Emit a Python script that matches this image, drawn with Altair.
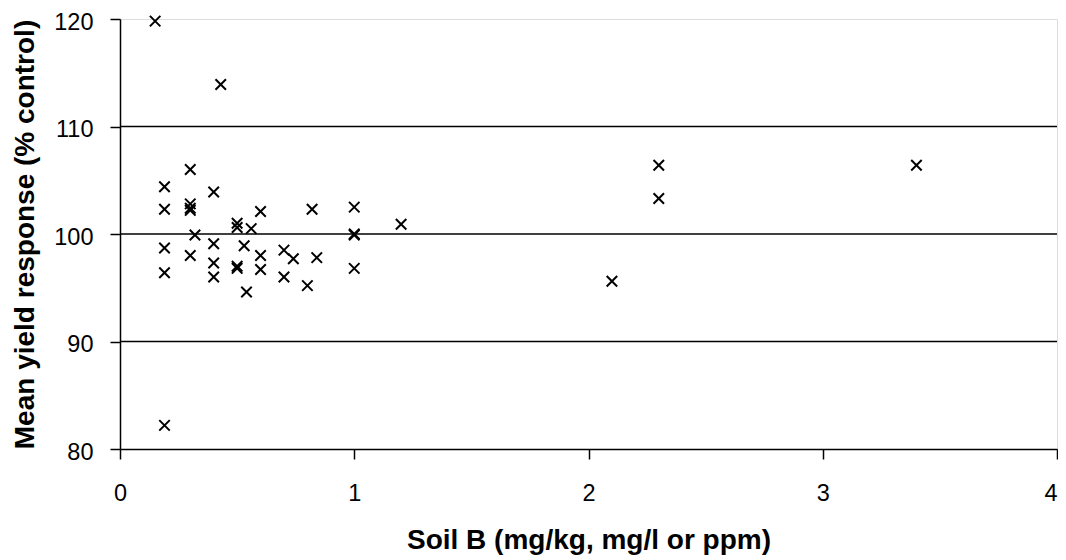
import altair as alt
import pandas as pd

# Soil B concentration (mg/kg) and mean yield response (% control)
soil_b = [0.15, 0.43, 0.30, 0.19, 0.40, 0.19, 0.30, 0.30, 0.30, 0.50,
          0.50, 0.56, 0.60, 0.82, 1.00, 1.20, 1.00, 1.00, 0.32, 0.19,
          0.30, 0.40, 0.53, 0.60, 0.70, 0.74, 0.84, 0.40, 0.50, 0.50,
          0.60, 0.19, 0.40, 0.70, 1.00, 0.80, 0.54, 0.19, 2.10, 2.30,
          2.30, 3.40]
yield_resp = [119.8, 113.9, 106.0, 104.4, 103.9, 102.3, 102.8, 102.4, 102.2, 101.0,
              100.6, 100.5, 102.1, 102.3, 102.5, 100.9, 100.0, 99.9, 99.9, 98.7,
              98.0, 99.1, 98.9, 98.0, 98.5, 97.7, 97.8, 97.3, 97.0, 96.8,
              96.7, 96.4, 96.0, 96.0, 96.8, 95.2, 94.6, 82.2, 95.6, 106.4,
              103.3, 106.4]
grid_levels = [90, 100, 110]
x_ticks = [0, 1, 2, 3, 4]
y_ticks = [80, 90, 100, 110, 120]

df = pd.DataFrame({"soil_b": soil_b, "yield": yield_resp})
grid_df = pd.DataFrame({"level": grid_levels})

FONT = "Liberation Sans"

xscale = alt.Scale(domain=[0, 4], nice=False, zero=False)
yscale = alt.Scale(domain=[80, 120], nice=False, zero=False)

x_axis = alt.Axis(
    values=x_ticks, title="Soil B (mg/kg, mg/l or ppm)", grid=False,
    labelFont=FONT, labelFontSize=23.5, labelColor="black", labelPadding=22,
    labelAlign={"condition": {"test": "datum.value == 4", "value": "right"}, "value": "center"},
    tickSize=10, tickColor="black", tickWidth=1.5,
    domainColor="black", domainWidth=1.5,
    titleFont=FONT, titleFontSize=28, titleFontWeight="bold", titleColor="black",
    titlePadding=22, labelFlush=False,
)
y_axis = alt.Axis(
    values=y_ticks, title="Mean yield response (% control)", grid=False,
    labelFont=FONT, labelFontSize=23.5, labelColor="black", labelPadding=17,
    labelOffset=3,
    tickSize=10, tickColor="black", tickWidth=1.5,
    domainColor="black", domainWidth=1.5,
    titleFont=FONT, titleFontSize=28, titleFontWeight="bold", titleColor="black",
    titlePadding=14, labelFlush=False,
)

grid = alt.Chart(grid_df).mark_rule(color="black", strokeWidth=1.5).encode(
    y=alt.Y("level:Q", scale=yscale, axis=y_axis),
)

points = alt.Chart(df).mark_point(
    shape="M-1,-1L1,1M-1,1L1,-1", filled=False, stroke="black",
    strokeWidth=2, size=110, opacity=1, clip=False,
).encode(
    x=alt.X("soil_b:Q", scale=xscale, axis=x_axis),
    y=alt.Y("yield:Q", scale=yscale, axis=y_axis),
)

chart = alt.layer(grid, points).properties(
    width=937, height=430,
    padding={"left": 112, "top": 11, "right": 1, "bottom": 111},
    autosize=alt.AutoSizeParams(type="none"),
).configure_view(
    stroke="#888888", strokeWidth=1.5,
).configure(background="white")

chart.save("out.html", embed_options={"renderer": "svg", "actions": False})
